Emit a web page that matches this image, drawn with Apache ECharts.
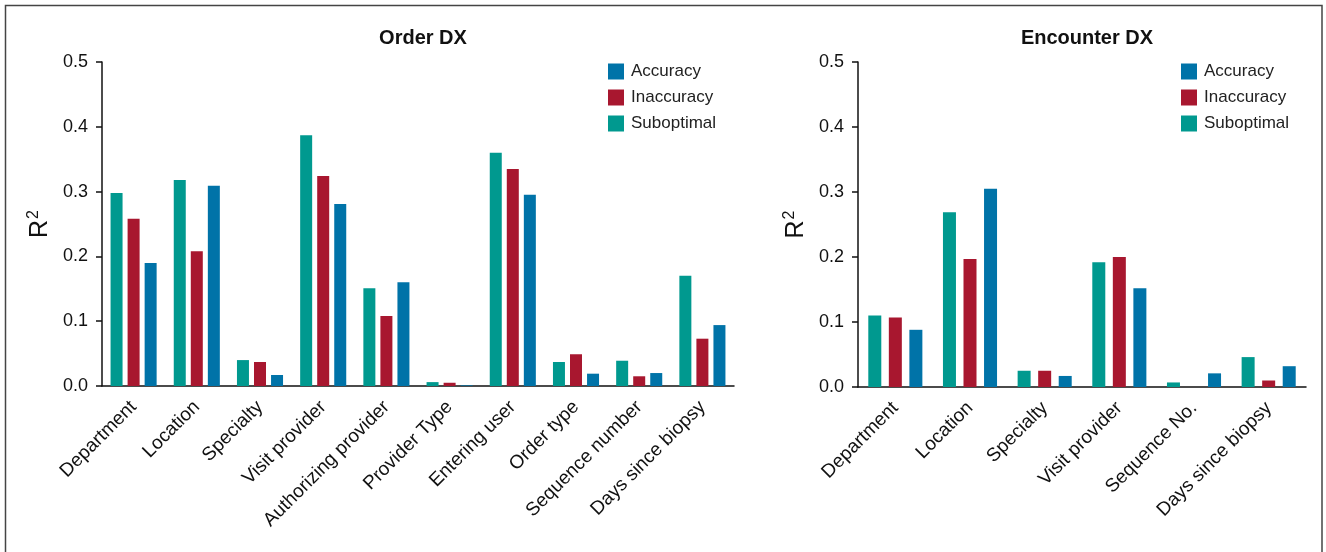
<!DOCTYPE html>
<html>
<head>
<meta charset="utf-8">
<script src="https://cdn.jsdelivr.net/npm/echarts@6/dist/echarts.min.js"></script>
<style>
  html, body { margin: 0; padding: 0; background: #fff; }
  #container { width: 1326px; height: 552px; }
</style>
</head>
<body>
<div id="container"></div>
<script>
var dom = document.getElementById("container");
var myChart = echarts.init(dom);

// Order DX
var orderCats = ['Department', 'Location', 'Specialty', 'Visit provider', 'Authorizing provider',
    'Provider Type', 'Entering user', 'Order type', 'Sequence number', 'Days since biopsy'];
var orderSuboptimal = [0.298, 0.318, 0.040, 0.387, 0.151, 0.006, 0.360, 0.037, 0.039, 0.170];
var orderInaccuracy = [0.258, 0.208, 0.037, 0.324, 0.108, 0.005, 0.335, 0.049, 0.015, 0.073];
var orderAccuracy   = [0.190, 0.309, 0.017, 0.281, 0.160, 0.001, 0.295, 0.019, 0.020, 0.094];

// Encounter DX
var encCats = ['Department', 'Location', 'Specialty', 'Visit provider', 'Sequence No.', 'Days since biopsy'];
var encSuboptimal = [0.110, 0.269, 0.025, 0.192, 0.007, 0.046];
var encInaccuracy = [0.107, 0.197, 0.025, 0.200, 0.000, 0.010];
var encAccuracy   = [0.088, 0.305, 0.017, 0.152, 0.021, 0.032];

var yTicks = [0, 0.5, 0.1]; // min, max, interval

var colTeal = '#00998f';
var colRed = '#a8172f';
var colBlue = '#0073a8';
var font = 'Liberation Sans';

function yAxis(idx) {
    return {
        type: 'value', gridIndex: idx,
        min: yTicks[0], max: yTicks[1], interval: yTicks[2],
        name: 'R{sup|2}',
        nameLocation: 'middle',
        nameGap: 47,
        nameRotate: 90,
        nameTextStyle: {
            fontFamily: font, fontSize: 25, color: '#111',
            rich: {sup: {fontFamily: font, fontSize: 16, color: '#111', padding: [0, 0, 13, 1]}}
        },
        splitLine: {show: false},
        axisLine: {show: true, lineStyle: {color: '#111', width: 1.5}},
        axisTick: {show: true, length: 6, lineStyle: {color: '#111', width: 1.5}},
        axisLabel: {
            fontFamily: font, fontSize: 18, color: '#111', margin: 14,
            formatter: function (v) { return v.toFixed(1); }
        }
    };
}

function xAxis(idx, cats) {
    return {
        type: 'category', gridIndex: idx, data: cats,
        axisLine: {lineStyle: {color: '#111', width: 1.5}},
        axisTick: {alignWithLabel: true, length: 6, lineStyle: {color: '#111', width: 1.5}},
        axisLabel: {
            rotate: 45, interval: 0, margin: 18,
            fontFamily: font, fontSize: 19, color: '#111'
        }
    };
}

function bars(name, data, color, idx, width, gap) {
    return {
        name: name, type: 'bar', data: data,
        xAxisIndex: idx, yAxisIndex: idx,
        barWidth: width, barGap: gap,
        itemStyle: {color: color},
        emphasis: {disabled: true}
    };
}

function legend(left) {
    return {
        orient: 'vertical', left: left, top: 58,
        icon: 'rect', itemWidth: 16, itemHeight: 16, itemGap: 9,
        textStyle: {fontFamily: font, fontSize: 17, color: '#222', padding: [0, 0, 0, 2]},
        data: ['Accuracy', 'Inaccuracy', 'Suboptimal'],
        selectedMode: false
    };
}

option = {
    backgroundColor: '#fff',
    animation: false,
    title: [
        {text: 'Order DX', left: 418, top: 23, textAlign: 'center',
            textStyle: {fontFamily: font, fontSize: 20, fontWeight: 'bold', color: '#111'}},
        {text: 'Encounter DX', left: 1082, top: 23, textAlign: 'center',
            textStyle: {fontFamily: font, fontSize: 20, fontWeight: 'bold', color: '#111'}}
    ],
    legend: [legend(603)],
    grid: [
        {left: 102, top: 62, width: 632, height: 324},
        {left: 858, top: 62, width: 448, height: 325}
    ],
    xAxis: [xAxis(0, orderCats), xAxis(1, encCats)],
    yAxis: [yAxis(0), yAxis(1)],
    series: [
        bars('Suboptimal', orderSuboptimal, colTeal, 0, 12, '42%'),
        bars('Inaccuracy', orderInaccuracy, colRed, 0, 12, '42%'),
        bars('Accuracy', orderAccuracy, colBlue, 0, 12, '42%'),
        bars('Suboptimal', encSuboptimal, colTeal, 1, 13, '58%'),
        bars('Inaccuracy', encInaccuracy, colRed, 1, 13, '58%'),
        bars('Accuracy', encAccuracy, colBlue, 1, 13, '58%')
    ],
    graphic: [
        {type: 'rect', shape: {x: 5.5, y: 5.5, width: 1316.5, height: 560},
            style: {fill: 'none', stroke: '#444', lineWidth: 1.5}, silent: true},
        // second legend, drawn with graphic since both legends share series names
        {type: 'group', left: 1181, top: 63, children: [
            {type: 'rect', shape: {x: 0, y: 0, width: 16, height: 16}, style: {fill: colBlue}},
            {type: 'text', x: 23, y: 8, style: {text: 'Accuracy', font: '17px "Liberation Sans"', fill: '#222', verticalAlign: 'middle'}},
            {type: 'rect', shape: {x: 0, y: 26, width: 16, height: 16}, style: {fill: colRed}},
            {type: 'text', x: 23, y: 34, style: {text: 'Inaccuracy', font: '17px "Liberation Sans"', fill: '#222', verticalAlign: 'middle'}},
            {type: 'rect', shape: {x: 0, y: 52, width: 16, height: 16}, style: {fill: colTeal}},
            {type: 'text', x: 23, y: 60, style: {text: 'Suboptimal', font: '17px "Liberation Sans"', fill: '#222', verticalAlign: 'middle'}}
        ]}
    ]
};
if (option && typeof option === "object") {
    myChart.setOption(option, true);
}
</script>
</body>
</html>
